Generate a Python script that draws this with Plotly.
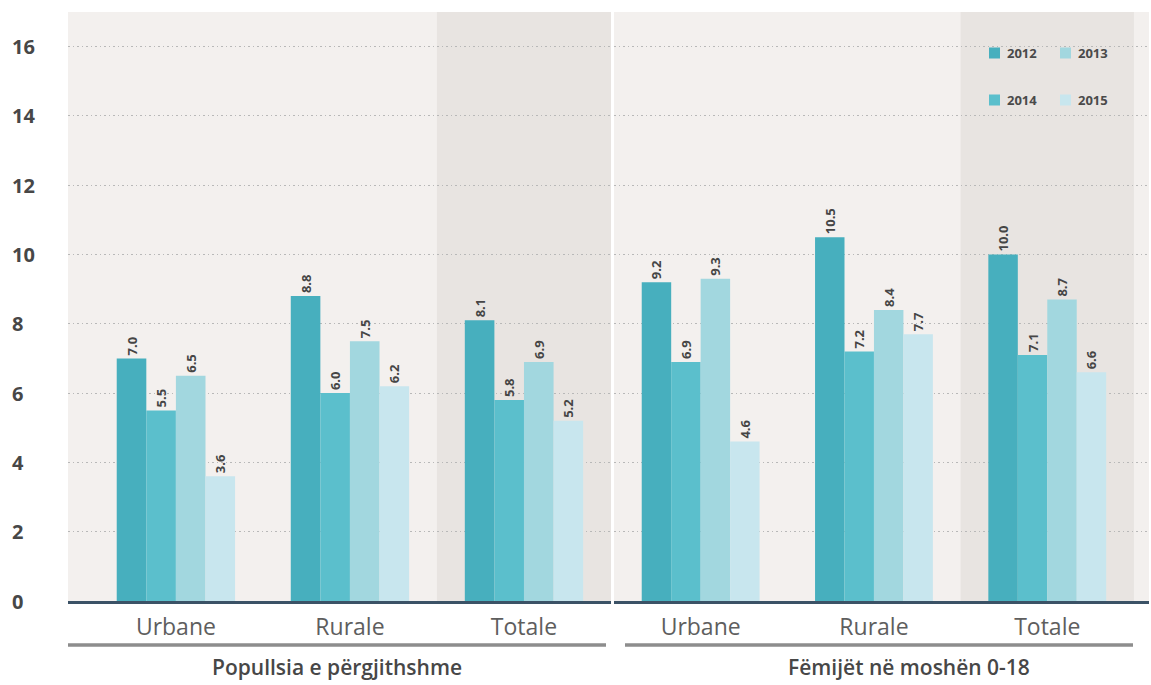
import plotly.graph_objects as go

W, H = 1151, 685
ML, MR, MT, MB = 0, 0, 12, 84

categories = ["Urbane", "Rurale", "Totale"]
group_titles = ["Popullsia e përgjithshme", "Fëmijët në moshën 0-18"]
# series in bar order (as drawn left to right within each group)
series_names = ["2012", "2014", "2013", "2015"]
series_colors = ["#47afbe", "#5bbfcc", "#a2d7df", "#c8e6ee"]
pop_values = {
    "2012": [7.0, 8.8, 8.1],
    "2014": [5.5, 6.0, 5.8],
    "2013": [6.5, 7.5, 6.9],
    "2015": [3.6, 6.2, 5.2],
}
child_values = {
    "2012": [9.2, 10.5, 10.0],
    "2014": [6.9, 7.2, 7.1],
    "2013": [9.3, 8.4, 8.7],
    "2015": [4.6, 7.7, 6.6],
}
y_ticks = [0, 2, 4, 6, 8, 10, 12, 14, 16]
legend_order = ["2012", "2013", "2014", "2015"]

PW = W - ML - MR
PH = H - MT - MB


def px_x(x):
    return (x - ML) / PW


def px_y(y):
    return (H - MB - y) / PH


fig = go.Figure()
for name, color in zip(series_names, series_colors):
    for xa, ya, data in (("x", "y", pop_values), ("x2", "y2", child_values)):
        vals = data[name]
        fig.add_trace(go.Bar(
            x=categories, y=vals, name=name, xaxis=xa, yaxis=ya,
            marker=dict(color=color, line=dict(width=0)),
            text=[f"{v:.1f}" for v in vals], textposition="outside",
            textangle=-90,
            textfont=dict(family="Open Sans", size=13, color="#454545", weight=700),
            cliponaxis=False, showlegend=False,
        ))

axis_common = dict(
    type="category", showgrid=False, zeroline=False, showline=True,
    linecolor="#3b5266", linewidth=3, ticks="",
    tickfont=dict(family="Open Sans", size=23, color="#5e5e5e"),
    ticklabelstandoff=3,
)
yaxis_common = dict(
    range=[0, 17], tickvals=y_ticks, showticklabels=False, showgrid=True,
    gridcolor="#b8b8b8", griddash="1.5px,3px", gridwidth=1.2, zeroline=False, ticks="",
)

fig.update_layout(
    width=W, height=H,
    margin=dict(l=ML, r=MR, t=MT, b=MB),
    paper_bgcolor="white", plot_bgcolor="#f3f0ee",
    barmode="group", bargap=0.32, bargroupgap=0,
    xaxis=dict(domain=[px_x(68), px_x(611)], range=[-0.62, 2.5], anchor="y", **axis_common),
    xaxis2=dict(domain=[px_x(614), px_x(1149)], range=[-0.5, 2.587], anchor="y2", **axis_common),
    yaxis=dict(anchor="x", **yaxis_common),
    yaxis2=dict(anchor="x2", matches="y", **yaxis_common),
    showlegend=False,
)

shapes = []
# shaded "Totale" band in each panel
for xr in ("x", "x2"):
    shapes.append(dict(type="rect", xref=xr, yref="y domain" if xr == "x" else "y2 domain",
                       x0=1.5, x1=2.5, y0=0, y1=1, fillcolor="#e8e4e1",
                       line=dict(width=0), layer="below"))
# group underlines
for x0, x1 in ((68, 606), (625, 1133)):
    shapes.append(dict(type="line", xref="paper", yref="paper",
                       x0=px_x(x0), x1=px_x(x1), y0=px_y(645), y1=px_y(645),
                       line=dict(color="#8d8d8d", width=3.5)))

annotations = []
for title, cx in zip(group_titles, (337, 909)):
    annotations.append(dict(text=title, xref="paper", yref="paper",
                            x=px_x(cx), y=px_y(667), xanchor="center", yanchor="middle",
                            showarrow=False,
                            font=dict(family="Open Sans", size=21, color="#474747", weight=600)))
for t in y_ticks:
    annotations.append(dict(text=str(t), xref="paper", yref="y", x=px_x(10), y=t,
                            xanchor="left", yanchor="middle", showarrow=False,
                            font=dict(family="Open Sans", size=20, color="#474747", weight=700)))

# legend (2 x 2 grid)
color_of = dict(zip(series_names, series_colors))
leg_pos = {"2012": (989, 53), "2013": (1060, 53), "2014": (989, 100), "2015": (1060, 100)}
for name in legend_order:
    lx, ly = leg_pos[name]
    shapes.append(dict(type="rect", xref="paper", yref="paper",
                       x0=px_x(lx), x1=px_x(lx + 11), y0=px_y(ly - 5.5), y1=px_y(ly + 5.5),
                       fillcolor=color_of[name], line=dict(width=0)))
    annotations.append(dict(text=name, xref="paper", yref="paper",
                            x=px_x(lx + 16), y=px_y(ly), xanchor="left", yanchor="middle",
                            showarrow=False,
                            font=dict(family="Open Sans", size=13, color="#4a4a4a", weight=700)))

fig.update_layout(shapes=shapes, annotations=annotations)
fig.write_html("out.html", config={"displayModeBar": False},
               post_script="document.body.style.margin='0';document.body.style.overflow='hidden';")
